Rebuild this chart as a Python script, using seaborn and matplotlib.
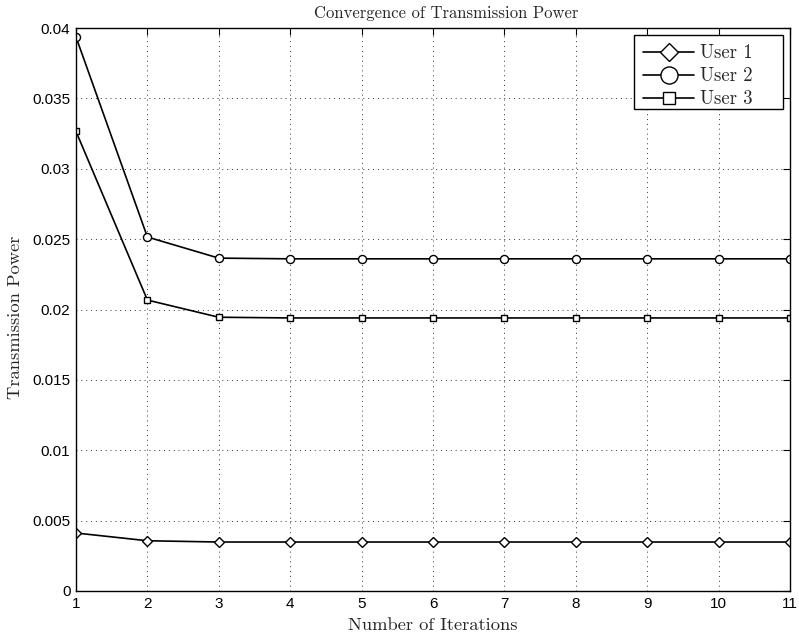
import matplotlib
matplotlib.use("Agg")
import matplotlib.pyplot as plt
from matplotlib.patches import Rectangle
import seaborn as sns
import pandas as pd
import numpy as np

iterations = list(range(1, 12))
user1 = [0.00412, 0.00357, 0.00348, 0.00348, 0.00348, 0.00348, 0.00348, 0.00348, 0.00348, 0.00348, 0.00348]
user2 = [0.03936, 0.02515, 0.02365, 0.0236, 0.0236, 0.0236, 0.0236, 0.0236, 0.0236, 0.0236, 0.0236]
user3 = [0.03265, 0.02067, 0.01945, 0.0194, 0.0194, 0.0194, 0.0194, 0.0194, 0.0194, 0.0194, 0.0194]
series_names = ["User 1", "User 2", "User 3"]
x_ticks = list(range(1, 12))
y_ticks = [0, 0.005, 0.01, 0.015, 0.02, 0.025, 0.03, 0.035, 0.04]
y_ticklabels = ["0", "0.005", "0.01", "0.015", "0.02", "0.025", "0.03", "0.035", "0.04"]

df = pd.DataFrame({
    "Iteration": iterations * 3,
    "Power": user1 + user2 + user3,
    "User": [series_names[0]] * 11 + [series_names[1]] * 11 + [series_names[2]] * 11,
})

sns.set_theme(style="white")
plt.rcParams["font.family"] = ["Liberation Sans", "DejaVu Sans"]
plt.rcParams["mathtext.fontset"] = "cm"

W, H = 799, 638
fig = plt.figure(figsize=(W / 100, H / 100), dpi=100)
ax = fig.add_axes([76 / W, 47 / H, (790 - 76) / W, (591 - 28) / H])

markers = {"User 1": "D", "User 2": "o", "User 3": "s"}
sizes = {"User 1": 5.0, "User 2": 5.8, "User 3": 4.8}
for name in series_names:
    sub = df[df["User"] == name]
    sns.lineplot(data=sub, x="Iteration", y="Power", ax=ax, color="black",
                 linewidth=1.2, marker=markers[name], markersize=sizes[name],
                 markerfacecolor="white", markeredgecolor="black",
                 markeredgewidth=1.0, label=name)

ax.set_xlim(1, 11)
ax.set_ylim(0, 0.04)
ax.set_xticks(x_ticks)
ax.set_yticks(y_ticks)
ax.set_yticklabels(y_ticklabels)
ax.tick_params(direction="in", length=5, width=0.8, top=True, right=True,
               labelsize=11, colors="black", pad=4)
for s in ax.spines.values():
    s.set_color("black")
    s.set_linewidth(1.0)
ax.grid(True, linestyle=(0, (1, 4)), color="black", linewidth=0.7, alpha=0.8)

serif = ["cmr10", "DejaVu Serif"]
ax.set_title("Convergence of Transmission Power", fontsize=12, family=serif, pad=7,
             x=(446 - 76) / (790 - 76))
ax.set_xlabel("Number of Iterations", fontsize=13.3, family=serif, labelpad=5)
ax.set_ylabel("Transmission Power", fontsize=13.3, family=serif)
ax.yaxis.set_label_coords(-(76 - 23) / (790 - 76), (591 - 317) / (591 - 28))

# legend frame (MATLAB-style, wider than its content)
frame = Rectangle((634 / W, 1 - 109 / H), 149 / W, 74 / H, transform=fig.transFigure,
                  facecolor="white", edgecolor="black", linewidth=1.0,
                  zorder=4.9, clip_on=False)
ax.add_patch(frame)

leg = ax.legend(loc="upper left", bbox_to_anchor=(634 / W, 1 - 35 / H),
                bbox_transform=fig.transFigure, frameon=False,
                prop={"family": serif, "size": 13.5},
                handlelength=2.7, borderpad=0.5, labelspacing=0.27,
                handletextpad=0.33, borderaxespad=0)
leg.set_zorder(5)
for h, ms in zip(leg.legend_handles, [8.7, 12.3, 8.4]):
    h.set_markersize(ms)

fig.savefig("out.png", dpi=100)
